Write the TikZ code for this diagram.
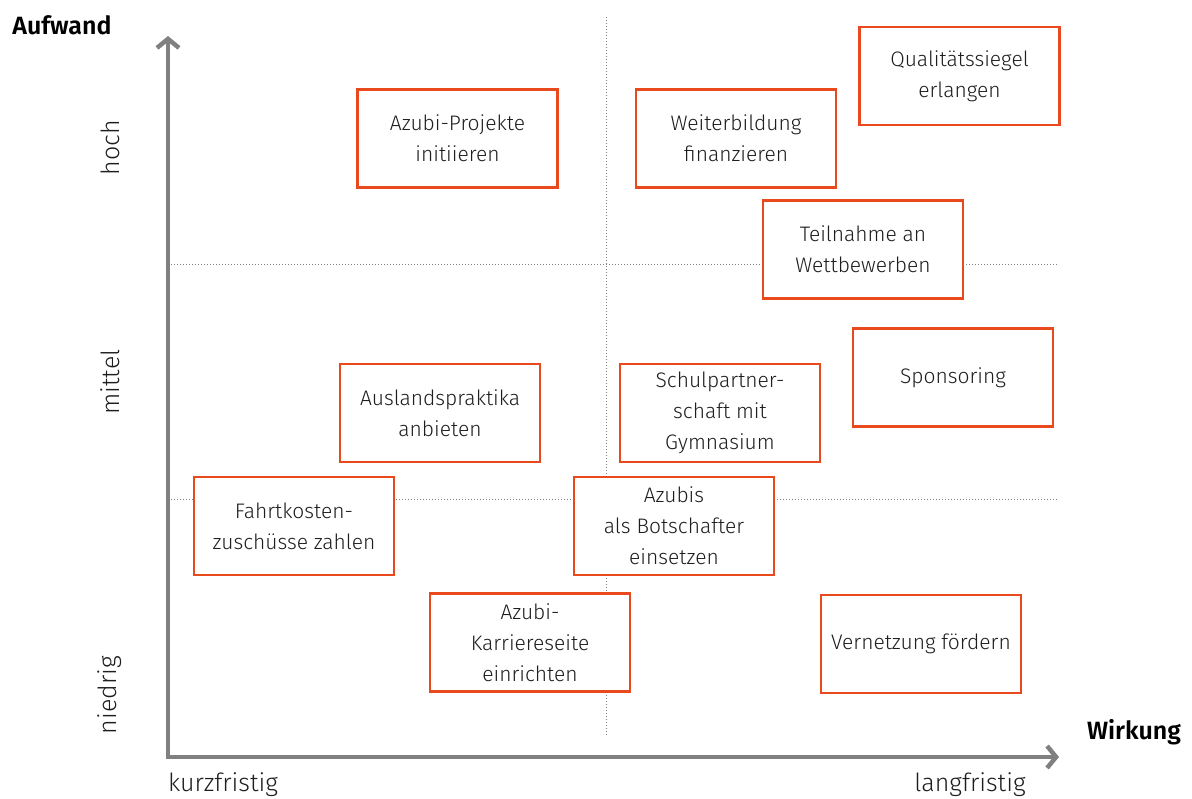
\documentclass[tikz,border=0pt]{standalone}
\usepackage{fontspec}
\setmainfont{Fira Sans Light}[BoldFont={Fira Sans SemiBold}]
\usetikzlibrary{arrows.meta}
\definecolor{boxred}{HTML}{E84A1E}
\definecolor{axisgray}{HTML}{808080}
\definecolor{txt}{HTML}{1E1E1E}
\begin{document}
\begin{tikzpicture}[x=1pt,y=-1pt,
  itembox/.style={draw=boxred,line width=2.2pt,fill=white,minimum width=200pt,minimum height=98pt,
    align=center,text=txt,font=\fontsize{21}{31}\selectfont,inner sep=0pt},
  axis/.style={draw=axisgray,line width=4.5pt,-{Straight Barb[length=9pt,width=22pt,line width=4.5pt]}},
  grid/.style={draw=axisgray,line width=1pt,dotted},
  lbl/.style={text=txt,font=\fontsize{25}{30}\selectfont,inner sep=0pt},
  axlbl/.style={text=black,font=\fontsize{25}{30}\selectfont\bfseries,inner sep=0pt}]
\useasboundingbox (0,0) rectangle (1192,799);
% coordinates
\coordinate (o) at (168,757);
\coordinate (ytop) at (168,36);
\coordinate (xend) at (1059,757);
\coordinate (v1) at (606,17);
\coordinate (v2) at (606,735);
\coordinate (h1a) at (168,265);
\coordinate (h1b) at (1058,265);
\coordinate (h2a) at (168,499);
\coordinate (h2b) at (1058,499);
% grid
\draw[grid] (v1) -- (v2);
\draw[grid] (h1a) -- (h1b);
\draw[grid] (h2a) -- (h2b);
% axes
\draw[axis] (o) -- (ytop);
\draw[axis] ([xshift=-2.25pt]o) -- (xend);
% axis labels
\node[axlbl] (aufwand) at (62,25) {Aufwand};
\node[axlbl] (wirkung) at (1134,732) {Wirkung};
\node[lbl] (kurz) at (223,785) {kurzfristig};
\node[lbl] (lang) at (970,785) {langfristig};
\node[lbl,rotate=90] (hoch) at (110,148) {hoch};
\node[lbl,rotate=90] (mittel) at (110,382) {mittel};
\node[lbl,rotate=90] (niedrig) at (110,695) {niedrig};
% boxes
\node[itembox] (b1) at (457.5,138.5) {Azubi-Projekte\\initiieren};
\node[itembox] (b2) at (736,138.5) {Weiterbildung\\finanzieren};
\node[itembox] (b3) at (959.5,76) {Qualitätssiegel\\erlangen};
\node[itembox] (b4) at (863,249.5) {Teilnahme an\\Wettbewerben};
\node[itembox] (b5) at (953,377.5) {Sponsoring};
\node[itembox] (b6) at (440,413) {Auslandspraktika\\anbieten};
\node[itembox] (b7) at (720,413) {Schulpartner-\\schaft mit\\Gymnasium};
\node[itembox] (b8) at (294,526) {Fahrtkosten-\\zuschüsse zahlen};
\node[itembox] (b9) at (674,526) {Azubis\\als Botschafter\\einsetzen};
\node[itembox] (b10) at (530,642.5) {Azubi-\\Karriereseite\\einrichten};
\node[itembox] (b11) at (921,644) {Vernetzung fördern};
\end{tikzpicture}
\end{document}
